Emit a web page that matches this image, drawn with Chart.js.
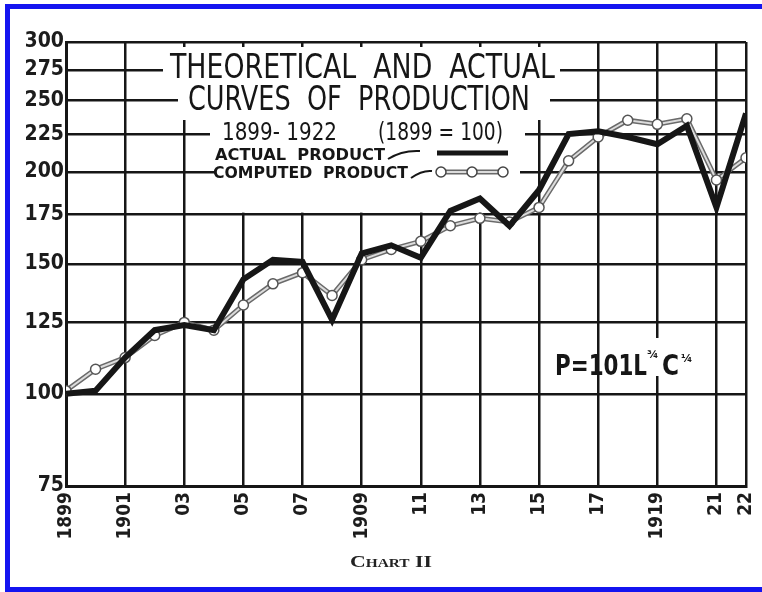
<!DOCTYPE html>
<html>
<head>
<meta charset="utf-8">
<script src="https://cdn.jsdelivr.net/npm/chart.js@4.4.0/dist/chart.umd.min.js"></script>
<style>
  html, body { margin: 0; padding: 0; background: #fff; }
  #wrap { position: relative; width: 762px; height: 592px; }
</style>
</head>
<body>
<div id="wrap"><canvas id="myChart" width="762" height="592"></canvas></div>
<script>
// ---------------- data ----------------
var years = [1899, 1900, 1901, 1902, 1903, 1904, 1905, 1906, 1907, 1908, 1909, 1910,
             1911, 1912, 1913, 1914, 1915, 1916, 1917, 1918, 1919, 1920, 1921, 1922];
var actualProduct = [100, 101, 112, 122, 124, 122, 143, 152, 151, 126, 155, 159,
                     153, 177, 184, 169, 189, 225, 227, 223, 218, 231, 179, 240];
var computedProduct = [101, 108, 112, 120, 125, 122, 132, 141, 146, 136, 152, 157,
                       161, 169, 173, 171, 179, 207, 223, 235, 232, 236, 195, 209];
var xTickYears = [1899, 1901, 1903, 1905, 1907, 1909, 1911, 1913, 1915, 1917, 1919, 1921, 1922];
var xTickLabels = ["1899", "1901", "03", "05", "07", "1909", "11", "13", "15", "17", "1919", "21", "22"];
var yTicks = [75, 100, 125, 150, 175, 200, 225, 250, 275, 300];

var INK = '#161616';

function pts(arr) {
  return years.map(function (yr, i) { return { x: yr, y: arr[i] }; });
}

// draws text squeezed / stretched to span x0..x1
function fitText(ctx, txt, x0, x1, base, font) {
  ctx.font = font;
  var w = ctx.measureText(txt).width;
  ctx.save();
  ctx.translate(x0, base);
  ctx.scale((x1 - x0) / w, 1);
  ctx.fillText(txt, 0, 0);
  ctx.restore();
}

//================ title block, legend, formula ================//
var titlePlugin = {
  id: 'titleBlock',
  beforeDatasetsDraw: function (chart) {
    var ctx = chart.ctx;
    var y175 = chart.scales.y.getPixelForValue(175);
    ctx.save();
    // white patches where the lettering breaks the grid
    ctx.fillStyle = '#fff';
    ctx.fillRect(163, 47, 397, 37);
    ctx.fillRect(178, 84, 372, 36);
    ctx.fillRect(210, 116, 315, 44);
    ctx.fillRect(215, 160, 305, y175 - 162);
    ctx.fillRect(644, 338, 56, 38);

    ctx.fillStyle = INK;
    ctx.textBaseline = 'alphabetic';
    var big = '34px "DejaVu Sans Condensed", "DejaVu Sans", sans-serif';
    fitText(ctx, 'THEORETICAL  AND  ACTUAL', 170, 555, 78, big);
    fitText(ctx, 'CURVES  OF  PRODUCTION', 188, 530, 110, big);
    var mid = '25px "DejaVu Sans Condensed", "DejaVu Sans", sans-serif';
    fitText(ctx, '1899- 1922', 222, 337, 140, mid);
    fitText(ctx, '(1899 = 100)', 378, 503, 140, mid);
    var small = 'bold 16px "DejaVu Sans", sans-serif';
    fitText(ctx, 'ACTUAL  PRODUCT', 215, 385, 160, small);
    fitText(ctx, 'COMPUTED  PRODUCT', 213, 408, 178, small);

    // little leader squiggles
    ctx.strokeStyle = INK;
    ctx.lineWidth = 2;
    ctx.beginPath();
    ctx.moveTo(388, 159); ctx.quadraticCurveTo(402, 150, 420, 151);
    ctx.moveTo(411, 178); ctx.quadraticCurveTo(422, 170, 432, 171);
    ctx.stroke();

    // legend: actual
    ctx.lineWidth = 5;
    ctx.beginPath();
    ctx.moveTo(437, 153); ctx.lineTo(508, 153);
    ctx.stroke();

    // legend: computed
    ctx.strokeStyle = '#6a6a6a';
    ctx.lineWidth = 5;
    ctx.beginPath(); ctx.moveTo(440, 172); ctx.lineTo(503, 172); ctx.stroke();
    ctx.strokeStyle = '#dcdcdc';
    ctx.lineWidth = 2;
    ctx.beginPath(); ctx.moveTo(440, 172); ctx.lineTo(503, 172); ctx.stroke();
    [441, 472, 503].forEach(function (cx) {
      ctx.beginPath();
      ctx.arc(cx, 172, 5, 0, Math.PI * 2);
      ctx.fillStyle = '#fff';
      ctx.fill();
      ctx.strokeStyle = '#444';
      ctx.lineWidth = 1.5;
      ctx.stroke();
    });

    // formula
    ctx.fillStyle = INK;
    var f = 'bold 28px "DejaVu Sans Condensed", "DejaVu Sans", sans-serif';
    fitText(ctx, 'P=101L', 555, 647, 375, f);
    fitText(ctx, 'C', 662, 679, 375, f);
    ctx.font = 'bold 11px "DejaVu Sans", sans-serif';
    ctx.fillText('\u00BE', 647, 358);
    ctx.fillText('\u00BC', 681, 362);
    ctx.restore();
  },
  afterDraw: function (chart) {
    var ctx = chart.ctx;
    ctx.save();
    ctx.fillStyle = '#222';
    fitText(ctx, 'Chart II', 350, 432, 567, 'small-caps bold 17px "Liberation Serif", serif');
    // blue frame of the scan
    ctx.fillStyle = '#1414f0';
    ctx.fillRect(5, 4, 757, 5);
    ctx.fillRect(5, 4, 5, 588);
    ctx.fillRect(5, 587, 757, 5);
    ctx.restore();
  }
};

var ctx = document.getElementById('myChart').getContext('2d');
new Chart(ctx, {
  type: 'line',
  data: {
    datasets: [
      {
        label: 'Actual product',
        data: pts(actualProduct),
        borderColor: INK,
        borderWidth: 6,
        pointRadius: 0,
        tension: 0,
        order: 1
      },
      {
        label: 'Computed product',
        data: pts(computedProduct),
        borderColor: '#dcdcdc',
        borderWidth: 2,
        pointRadius: 5,
        pointBackgroundColor: '#fff',
        pointBorderColor: '#555',
        pointBorderWidth: 1.5,
        tension: 0,
        order: 2
      },
      {
        label: 'Computed product (edge)',
        data: pts(computedProduct),
        borderColor: '#6a6a6a',
        borderWidth: 5,
        pointRadius: 0,
        tension: 0,
        order: 3
      }
    ]
  },
  options: {
    responsive: false,
    animation: false,
    devicePixelRatio: 1,
    layout: { padding: { left: 26, right: 16, top: 42, bottom: 36 } },
    plugins: {
      legend: { display: false },
      tooltip: { enabled: false },
      title: { display: false }
    },
    scales: {
      x: {
        type: 'linear',
        min: 1899,
        max: 1922,
        afterBuildTicks: function (s) {
          s.ticks = xTickYears.map(function (v) { return { value: v }; });
        },
        afterFit: function (s) {
          s.height = 70;
          s.paddingLeft = 0;
          s.paddingRight = 0;
        },
        grid: { color: INK, lineWidth: 2.5, drawTicks: false },
        border: { color: INK, width: 3 },
        ticks: {
          autoSkip: false,
          minRotation: 90,
          maxRotation: 90,
          padding: 6,
          color: '#1c1c1c',
          font: { family: '"DejaVu Sans Condensed", sans-serif', size: 19, weight: 'bold' },
          callback: function (v) {
            var i = xTickYears.indexOf(v);
            return i >= 0 ? xTickLabels[i] : '';
          }
        }
      },
      y: {
        type: 'logarithmic',
        min: 75,
        max: 300,
        afterBuildTicks: function (s) {
          s.ticks = yTicks.map(function (v) { return { value: v }; });
        },
        afterFit: function (s) {
          s.width = 40;
          s.paddingTop = 0;
          s.paddingBottom = 0;
        },
        grid: { color: INK, lineWidth: 2.5, drawTicks: false },
        border: { color: INK, width: 3 },
        ticks: {
          padding: 2,
          color: '#1c1c1c',
          font: { family: '"DejaVu Sans Condensed", "DejaVu Sans", sans-serif', size: 21, weight: 'bold' },
          callback: function (v) { return String(v); }
        }
      }
    }
  },
  plugins: [titlePlugin]
});
</script>
</body>
</html>
